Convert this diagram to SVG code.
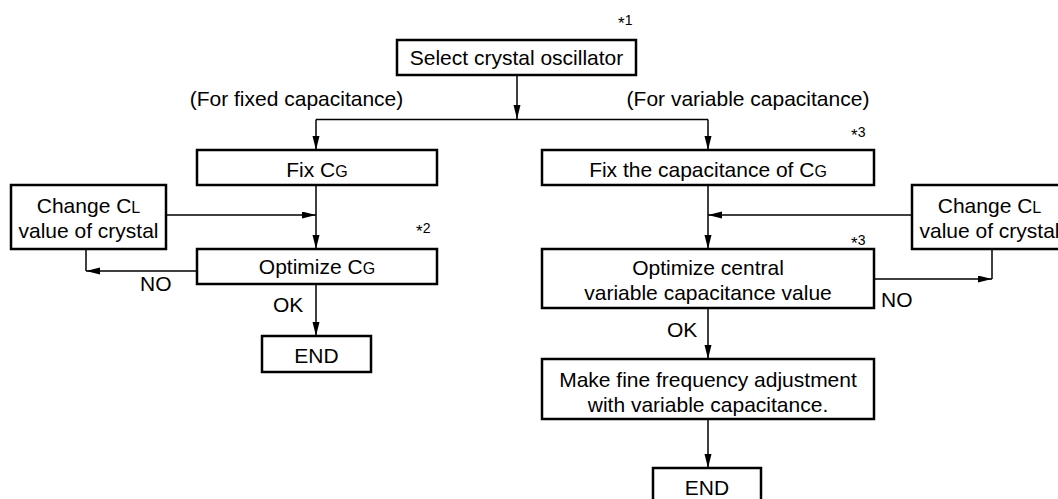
<svg xmlns="http://www.w3.org/2000/svg" width="1058" height="499" viewBox="0 0 1058 499">
<style>
.box{fill:#fff;stroke:#000;stroke-width:2.5}
text{font-family:"Liberation Sans",Arial,sans-serif;font-size:21px;fill:#000}
.c{text-anchor:middle}
.sub{font-size:16px}
.note{font-size:14px}
.star{font-size:17px}
.ln{fill:none;stroke:#000;stroke-width:1.5}
</style>
<defs>
<marker id="ah" markerUnits="userSpaceOnUse" markerWidth="14" markerHeight="8" refX="14" refY="3.5" orient="auto">
<path d="M0,0 L14,3.5 L0,7 z" fill="#000"/>
</marker>
</defs>
<rect width="1058" height="499" fill="#fff"/>
<g id="connectors">
<path class="ln" d="M517,76 V119" marker-end="url(#ah)"/>
<path class="ln" d="M316,119.5 H708"/>
<path class="ln" d="M316,119.5 V150" marker-end="url(#ah)"/>
<path class="ln" d="M708,119.5 V150" marker-end="url(#ah)"/>
<path class="ln" d="M316,186 V249" marker-end="url(#ah)"/>
<path class="ln" d="M166,215 H316" marker-end="url(#ah)"/>
<path class="ln" d="M197,271 H86" marker-end="url(#ah)"/>
<path class="ln" d="M86,249 V271"/>
<path class="ln" d="M316,284 V336" marker-end="url(#ah)"/>
<path class="ln" d="M708,186 V249" marker-end="url(#ah)"/>
<path class="ln" d="M912,215 H708" marker-end="url(#ah)"/>
<path class="ln" d="M874,279 H992" marker-end="url(#ah)"/>
<path class="ln" d="M992,249 V279"/>
<path class="ln" d="M708,308 V359" marker-end="url(#ah)"/>
<path class="ln" d="M708,419 V468" marker-end="url(#ah)"/>
</g>
<g id="labels">
<text class="c" x="296.5" y="106">(For fixed capacitance)</text>
<text class="c" x="748" y="106">(For variable capacitance)</text>
<text class="note" x="618" y="25"><tspan class="star" dy="4">*</tspan><tspan dy="-4">1</tspan></text>
<text class="note" x="416" y="233"><tspan class="star" dy="4">*</tspan><tspan dy="-4">2</tspan></text>
<text class="note" x="851" y="137"><tspan class="star" dy="4">*</tspan><tspan dy="-4">3</tspan></text>
<text class="note" x="851" y="245"><tspan class="star" dy="4">*</tspan><tspan dy="-4">3</tspan></text>
<text x="140" y="291">NO</text>
<text x="273" y="312">OK</text>
<text x="881" y="307">NO</text>
<text x="667" y="337">OK</text>
</g>
<g id="n-select">
<rect class="box" x="397" y="40" width="239" height="35"/>
<text class="c" x="516.5" y="65">Select crystal oscillator</text>
</g>
<g id="n-fixcg">
<rect class="box" x="197" y="150" width="240" height="35"/>
<text class="c" x="317" y="177">Fix C<tspan class="sub">G</tspan></text>
</g>
<g id="n-changecl-left">
<rect class="box" x="11" y="185" width="155" height="64"/>
<text class="c" x="88.5" y="213">Change C<tspan class="sub">L</tspan></text>
<text class="c" x="88.5" y="238">value of crystal</text>
</g>
<g id="n-optcg">
<rect class="box" x="197" y="249" width="240" height="35"/>
<text class="c" x="317" y="274">Optimize C<tspan class="sub">G</tspan></text>
</g>
<g id="n-end-left">
<rect class="box" x="262" y="336" width="109" height="36"/>
<text class="c" x="316.5" y="363">END</text>
</g>
<g id="n-fixcap">
<rect class="box" x="542" y="150" width="332" height="35"/>
<text class="c" x="708" y="177">Fix the capacitance of C<tspan class="sub">G</tspan></text>
</g>
<g id="n-changecl-right">
<rect class="box" x="912" y="185" width="155" height="64"/>
<text class="c" x="989.5" y="213">Change C<tspan class="sub">L</tspan></text>
<text class="c" x="989.5" y="238">value of crystal</text>
</g>
<g id="n-optcentral">
<rect class="box" x="542" y="249" width="332" height="59"/>
<text class="c" x="708" y="275">Optimize central</text>
<text class="c" x="708" y="300">variable capacitance value</text>
</g>
<g id="n-fine">
<rect class="box" x="542" y="359" width="332" height="60"/>
<text class="c" x="708" y="387">Make fine frequency adjustment</text>
<text class="c" x="708" y="412">with variable capacitance.</text>
</g>
<g id="n-end-right">
<rect class="box" x="653" y="468" width="108" height="36"/>
<text class="c" x="707" y="495">END</text>
</g>
</svg>
